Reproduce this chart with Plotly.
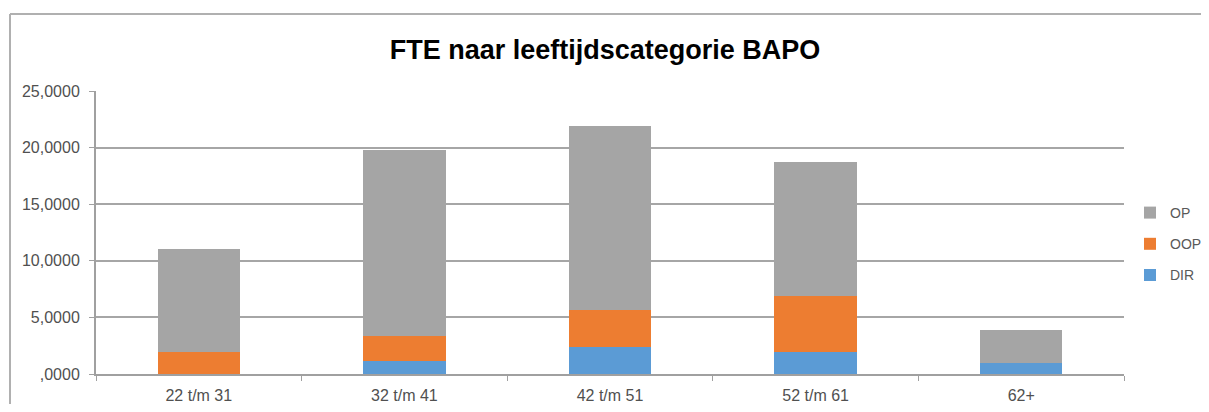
import plotly.graph_objects as go

categories = ["22 t/m 31", "32 t/m 41", "42 t/m 51", "52 t/m 61", "62+"]
dir_values = [0.0, 1.12, 2.36, 1.94, 0.94]
oop_values = [1.91, 2.26, 3.32, 4.91, 0.0]
op_values = [9.09, 16.41, 16.22, 11.92, 2.97]
y_tickvals = [0, 5, 10, 15, 20, 25]
y_ticktext = [",0000", "5,0000", "10,0000", "15,0000", "20,0000", "25,0000"]

series = [("DIR", dir_values, "#5b9bd5", 3), ("OOP", oop_values, "#ed7d31", 2), ("OP", op_values, "#a5a5a5", 1)]

fig = go.Figure()
for name, vals, col, rank in series:
    fig.add_trace(go.Bar(x=categories, y=vals, name=name, marker=dict(color=col, line=dict(width=0)),
                         legendgroup=name, legendrank=rank))

# page body has an 8px margin on every side; size the figure to fit without scrollbars
OFF = 8
W, H = 1209 - 2 * OFF, 412 - 2 * OFF
L = 96 - OFF
T = 91 - OFF
R = W - (1124 - OFF)
B = H - (374 - OFF)
pw, ph = W - L - R, H - T - B

def px(x):
    return (x - OFF - L) / pw

def py(y):
    return (H - B - (y - OFF)) / ph

border = dict(color="#b0b0b0", width=2)

fig.update_layout(
    width=W, height=H,
    margin=dict(l=L, r=R, t=T, b=B, autoexpand=False),
    barmode="stack", bargap=0.6,
    plot_bgcolor="white", paper_bgcolor="white",
    font=dict(family="Liberation Sans, Arial, sans-serif", size=16, color="#595959"),
    title=dict(text="<b>FTE naar leeftijdscategorie BAPO</b>", x=px(605), xref="paper", xanchor="center",
               y=1 - (50 - OFF) / H, yanchor="middle",
               font=dict(family="Liberation Sans, Arial, sans-serif", size=27, color="#000000")),
    legend=dict(x=px(1130), y=py(197), xanchor="left", yanchor="top", traceorder="grouped",
                tracegroupgap=10, font=dict(size=14, color="#595959"), bgcolor="rgba(0,0,0,0)"),
    xaxis=dict(showline=True, linecolor="#a0a0a0", linewidth=2, ticks="outside", tickson="boundaries",
               ticklen=5, tickcolor="#a0a0a0", showgrid=False, ticklabelstandoff=6, automargin=False,
               tickfont=dict(size=16, color="#505050")),
    yaxis=dict(range=[0, 25], tickvals=y_tickvals, ticktext=y_ticktext, showline=True, linecolor="#a0a0a0",
               linewidth=2, ticks="outside", ticklen=5, tickcolor="#a0a0a0", gridcolor="#a6a6a6",
               gridwidth=2, zeroline=False, ticklabelstandoff=6, automargin=False,
               tickfont=dict(size=16, color="#505050")),
    shapes=[
        dict(type="line", xref="paper", yref="paper", x0=px(10), x1=px(1209), y0=py(14), y1=py(14),
             line=border, layer="below"),
        dict(type="line", xref="paper", yref="paper", x0=px(10), x1=px(10), y0=py(14), y1=py(404),
             line=border, layer="below"),
    ],
)

fig.write_html("out.html")
